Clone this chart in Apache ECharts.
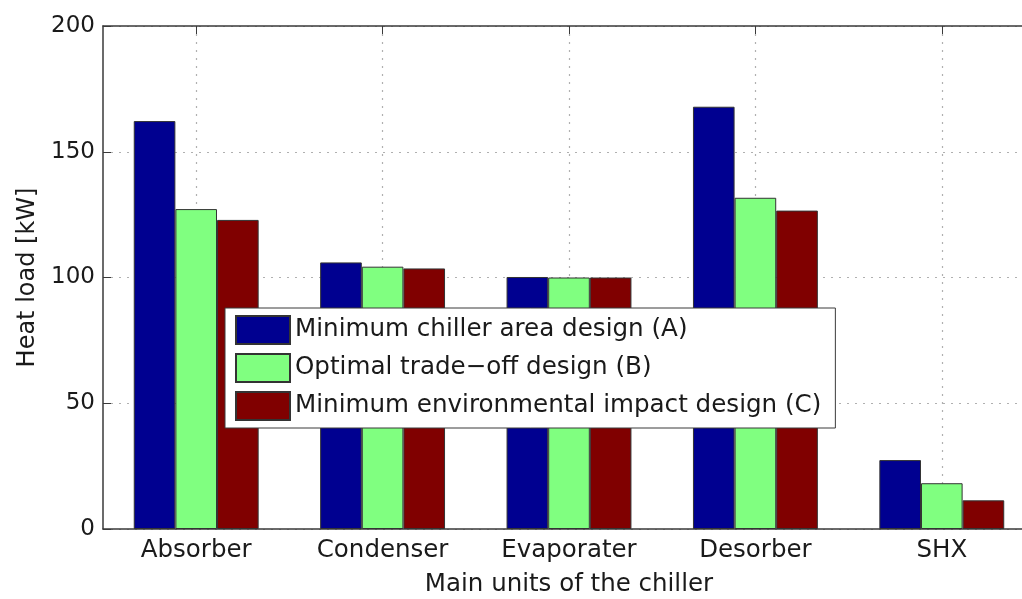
<!DOCTYPE html>
<html>
<head>
<meta charset="utf-8">
<script src="https://cdn.jsdelivr.net/npm/echarts@6/dist/echarts.min.js"></script>
<style>
  html, body { margin: 0; padding: 0; background: #fff; }
  #chart { width: 1022px; height: 599px; }
</style>
</head>
<body>
<div id="chart"></div>
<script>
// Heat load of each chiller unit for three design points
const categories = ['Absorber', 'Condenser', 'Evaporater', 'Desorber', 'SHX'];
const seriesNames = [
  'Minimum chiller area design (A)',
  'Optimal trade\u2212off design (B)',
  'Minimum environmental impact design (C)'
];
const designA = [162.2, 106.0, 100.2, 167.9, 27.4];
const designB = [127.2, 104.3, 100.0, 131.7, 18.2];
const designC = [122.9, 103.6, 100.0, 126.6, 11.4];
const yTicks = [0, 50, 100, 150, 200];

const colors = ['#000090', '#80ff80', '#800000'];
const font = '"DejaVu Sans", Verdana, sans-serif';
const textColor = '#1a1a1a';
const lineColor = '#3a3a3a';
const gridColor = '#b0b0b0';

const chart = echarts.init(document.getElementById('chart'), null, { renderer: 'canvas' });

const makeSeries = (name, data, color) => ({
  name: name,
  type: 'bar',
  data: data,
  barGap: '0%',
  barCategoryGap: '33%',
  itemStyle: { color: color, borderColor: '#333', borderWidth: 1 },
  emphasis: { disabled: true },
  animation: false
});

chart.setOption({
  backgroundColor: '#ffffff',
  animation: false,
  // the plot box runs a little past the right edge of the canvas
  grid: { left: 103, top: 26, height: 503, width: 932, outerBoundsMode: 'none', containLabel: false },
  legend: {
    orient: 'vertical',
    left: 225,
    top: 308,
    itemWidth: 54,
    itemHeight: 28,
    itemGap: 8,
    padding: [7, 14, 7, 10],
    backgroundColor: '#ffffff',
    borderColor: lineColor,
    borderWidth: 1,
    icon: 'rect',
    textStyle: { fontFamily: font, fontSize: 24.6, color: textColor },
    data: seriesNames
  },
  xAxis: [
    {
      type: 'category',
      data: categories,
      position: 'bottom',
      name: 'Main units of the chiller',
      nameLocation: 'middle',
      nameGap: 43,
      nameTextStyle: { fontFamily: font, fontSize: 24.5, color: textColor },
      axisLine: { lineStyle: { color: lineColor, width: 1.5 } },
      axisTick: { show: true, inside: true, alignWithLabel: true, length: 8, lineStyle: { color: lineColor } },
      axisLabel: { fontFamily: font, fontSize: 24.5, color: textColor, margin: 9 },
      splitLine: { show: true, alignWithLabel: true, lineStyle: { color: gridColor, type: [2, 6], width: 1.2 } }
    },
    {
      type: 'category',
      data: categories,
      position: 'top',
      axisLine: { lineStyle: { color: lineColor, width: 1.5 } },
      axisTick: { show: true, inside: true, alignWithLabel: true, length: 8, lineStyle: { color: lineColor } },
      axisLabel: { show: false },
      splitLine: { show: false }
    }
  ],
  yAxis: {
    type: 'value',
    min: yTicks[0],
    max: yTicks[yTicks.length - 1],
    interval: yTicks[1] - yTicks[0],
    name: 'Heat load [kW]',
    nameLocation: 'middle',
    nameGap: 62,
    nameTextStyle: { fontFamily: font, fontSize: 24, color: textColor },
    axisLine: { show: true, lineStyle: { color: lineColor, width: 1.5 } },
    axisTick: { show: true, inside: true, length: 8, lineStyle: { color: lineColor } },
    axisLabel: { fontFamily: font, fontSize: 23, color: textColor, margin: 8 },
    splitLine: { show: true, lineStyle: { color: gridColor, type: [2, 6], width: 1.2 } }
  },
  series: [
    makeSeries(seriesNames[0], designA, colors[0]),
    makeSeries(seriesNames[1], designB, colors[1]),
    makeSeries(seriesNames[2], designC, colors[2])
  ]
});
</script>
</body>
</html>
